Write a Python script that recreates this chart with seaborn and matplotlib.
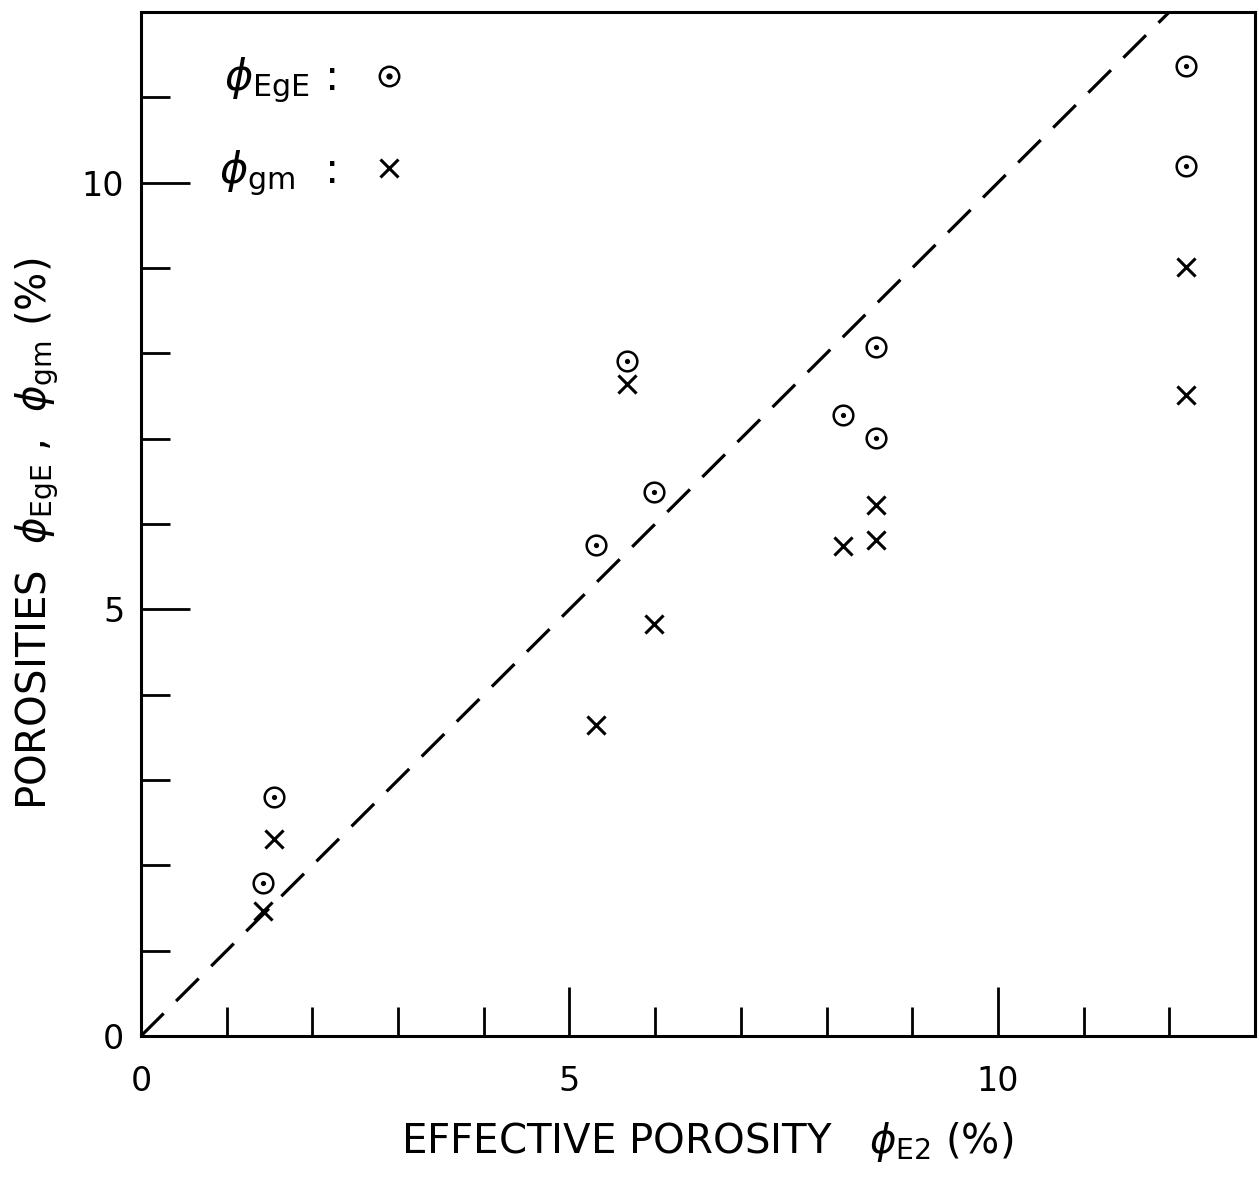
import numpy as np
import pandas as pd
import seaborn as sns
import matplotlib.pyplot as plt
from matplotlib.lines import Line2D
from matplotlib.ticker import MultipleLocator

# effective porosity phi_E2 (%) of each sample
phi_e2 = [1.42, 1.55, 5.31, 5.67, 5.99, 8.19, 8.58, 8.58, 12.19, 12.19]
# phi_EgE (%) - circled dot
phi_ege = [1.79, 2.80, 5.75, 7.91, 6.37, 7.28, 8.07, 7.01, 11.37, 10.20]
# phi_gm (%) - cross
phi_gm = [1.46, 2.31, 3.64, 7.64, 4.83, 5.74, 6.22, 5.81, 9.01, 7.51]

xticks = [0, 5, 10]
yticks = [0, 5, 10]

sns.set_style('ticks')
plt.rcParams['font.family'] = ['DejaVu Sans']
plt.rcParams['mathtext.fontset'] = 'dejavusans'
plt.rcParams['text.color'] = 'black'
plt.rcParams['axes.labelcolor'] = 'black'
plt.rcParams['xtick.color'] = 'black'
plt.rcParams['ytick.color'] = 'black'

df = pd.DataFrame({'x': phi_e2, 'ege': phi_ege, 'gm': phi_gm})

fig = plt.figure(figsize=(12.59, 11.87), dpi=100)
ax = fig.add_axes([141/1259, 151/1187, 1114/1259, 1024/1187])

ax.plot([0, 13], [0, 13], ls=(0, (10, 5.5)), color='black', lw=2.3)

sns.scatterplot(data=df, x='x', y='ege', ax=ax, marker='o', s=200,
                facecolor='white', edgecolor='black', linewidth=1.8, zorder=3)
sns.scatterplot(data=df, x='x', y='ege', ax=ax, marker='o', s=14,
                color='black', edgecolor='black', linewidth=0, zorder=4)
sns.scatterplot(data=df, x='x', y='gm', ax=ax, marker='x', s=170,
                color='black', linewidth=2.2, zorder=3)

ax.set_xlim(0, 13)
ax.set_ylim(0, 12)
ax.set_xticks(xticks)
ax.set_yticks(yticks)
ax.xaxis.set_minor_locator(MultipleLocator(1))
ax.yaxis.set_minor_locator(MultipleLocator(1))
ax.tick_params(which='major', direction='in', length=35, width=2,
               labelsize=24, top=False, right=False)
ax.tick_params(axis='x', which='major', pad=21)
ax.tick_params(axis='y', which='major', pad=12)
ax.tick_params(which='minor', direction='in', length=21, width=2,
               top=False, right=False)
for sp in ax.spines.values():
    sp.set_linewidth(2.2)
    sp.set_color('black')

ax.set_xlabel(r'EFFECTIVE POROSITY   $\phi_{\mathrm{E2}}$ (%)', fontsize=29)
ax.xaxis.set_label_coords(0.508, -0.082)
ax.set_ylabel(r'POROSITIES  $\phi_{\mathrm{EgE}}$ ,  $\phi_{\mathrm{gm}}$ (%)',
              fontsize=29)
ax.yaxis.set_label_coords(-0.072, 0.49)

h_ege = (Line2D([], [], ls='none', marker='o', ms=14, mfc='white', mec='black', mew=1.8),
         Line2D([], [], ls='none', marker='o', ms=3.5, mfc='black', mec='black'))
h_gm = Line2D([], [], ls='none', marker='x', ms=13, color='black', mew=2.2)
ax.legend([h_ege, h_gm], [r'$\phi_{\mathrm{EgE}}$ :', r'$\phi_{\mathrm{gm}}$  :'],
          loc='upper left', bbox_to_anchor=(0.035, 0.995), frameon=False,
          markerfirst=False, fontsize=31, labelspacing=1.0, handletextpad=0.75,
          handlelength=1.0)

plt.savefig('out.png', dpi=100)
